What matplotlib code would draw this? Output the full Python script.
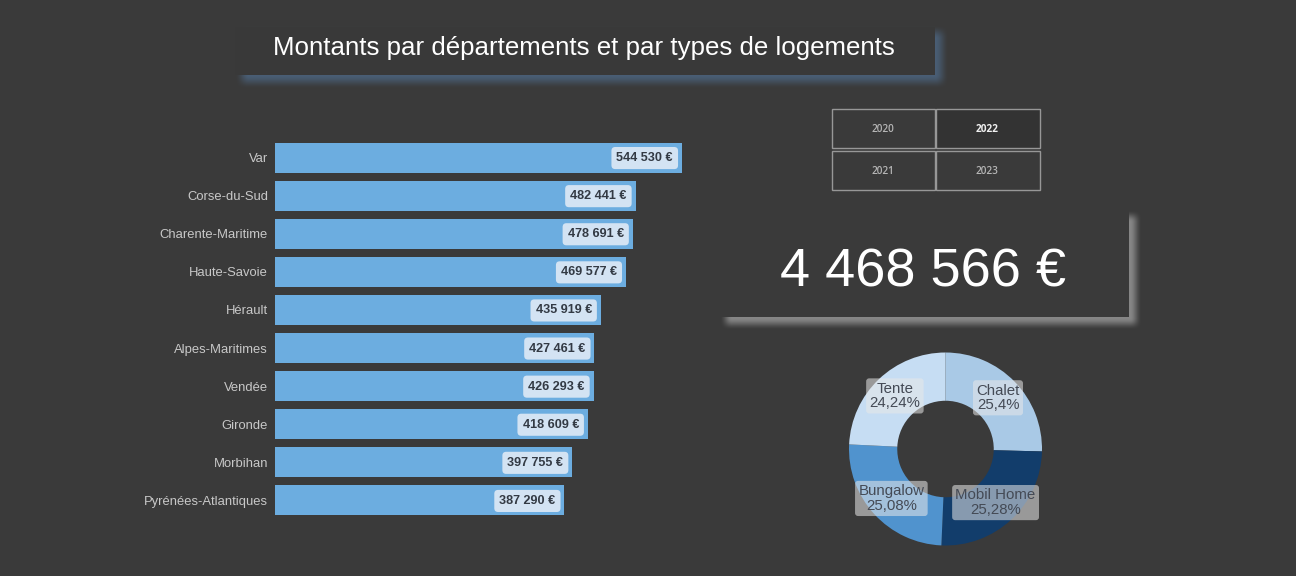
import matplotlib
matplotlib.use("Agg")
import numpy as np
import matplotlib.pyplot as plt
from matplotlib.colors import to_rgb
from matplotlib.patches import Rectangle

departements = ["Var", "Corse-du-Sud", "Charente-Maritime", "Haute-Savoie", "Hérault",
                "Alpes-Maritimes", "Vendée", "Gironde", "Morbihan", "Pyrénées-Atlantiques"]
montants = [544530, 482441, 478691, 469577, 435919, 427461, 426293, 418609, 397755, 387290]
types_logement = ["Chalet", "Mobil Home", "Bungalow", "Tente"]
parts = [25.4, 25.28, 25.08, 24.24]
parts_txt = ["25,4%", "25,28%", "25,08%", "24,24%"]
annees = [["2020", "2022"], ["2021", "2023"]]
total_txt = "4 468 566 €"
titre = "Montants par départements et par types de logements"

W, H = 1296, 576
BG = "#3a3a3a"
plt.rcParams["font.family"] = ["Liberation Sans", "DejaVu Sans"]

fig = plt.figure(figsize=(W / 100, H / 100), dpi=100, facecolor=BG)

def px_axes(l, t, r, b, **kw):
    return fig.add_axes([l / W, 1 - b / H, (r - l) / W, (b - t) / H], **kw)

bgax = px_axes(0, 0, W, H)
bgax.set_xlim(0, W); bgax.set_ylim(H, 0); bgax.axis("off")

def soft(u, a, b, blur):
    def ss(t):
        t = np.clip(t, 0, 1)
        return t * t * (3 - 2 * t)
    return ss((u - a + blur) / (2 * blur)) * ss((b + blur - u) / (2 * blur))

def shadow(l, t, r, b, color, blur, strength):
    x0, x1, y0, y1 = int(l - blur - 2), int(r + blur + 2), int(t - blur - 2), int(b + blur + 2)
    xx = soft(np.arange(x0, x1) + .5, l, r, blur)
    yy = soft(np.arange(y0, y1) + .5, t, b, blur)
    img = np.zeros((y1 - y0, x1 - x0, 4))
    img[..., :3] = to_rgb(color)
    img[..., 3] = np.outer(yy, xx) * strength
    bgax.imshow(img, extent=(x0, x1, y1, y0), zorder=1, interpolation="nearest", aspect="auto")
    bgax.set_xlim(0, W); bgax.set_ylim(H, 0)

# title panel
shadow(242, 32, 942, 82, "#4a6078", 7, 0.95)
bgax.add_patch(Rectangle((235, 27), 700, 48, fc="#393939", ec="none", zorder=2))
bgax.text(584, 47.5, titre, color="white", fontsize=18.6, ha="center", va="center", zorder=3)

# KPI panel
shadow(726, 216, 1136, 324, "#868686", 6, 1.0)
bgax.add_patch(Rectangle((719, 209), 410, 108, fc="#3a3a3a", ec="none", zorder=2))
bgax.text(923, 272.5, total_txt, color="white", fontsize=39, ha="center", va="center", zorder=3)

# year selector
xs = [(832, 935), (936, 1040)]
ys = [(109, 148), (151, 190)]
for r in range(2):
    for c in range(2):
        sel = annees[r][c] == "2022"
        (x0, x1), (y0, y1) = xs[c], ys[r]
        bgax.add_patch(Rectangle((x0 - .5, y0 - .5), x1 - x0, y1 - y0,
                                 fc="#333333" if sel else BG, ec="#979797", lw=1, zorder=2))
        bgax.text((x0 + x1) / 2 - 1, (y0 + y1) / 2 + 1, annees[r][c], family="Open Sans",
                  weight="bold" if sel else "semibold",
                  color="#f0f0f0" if sel else "#b5b5b5", fontsize=7.2, ha="center", va="center", zorder=3)

# bars
ax = px_axes(275, 138.5, 682, 519.5)
ax.patch.set_alpha(0)
y = np.arange(len(departements))
ax.barh(y, montants, height=0.787, color="#6cade0", edgecolor="none")
ax.set_xlim(0, max(montants)); ax.set_ylim(len(departements) - .5, -.5)
ax.set_yticks(y, departements)
ax.set_xticks([])
ax.tick_params(axis="y", length=0, pad=5, labelcolor="#c8c8c8", labelsize=9.4)
for s in ax.spines.values():
    s.set_visible(False)
for i, v in enumerate(montants):
    ax.annotate(f"{v:,} €".replace(",", " "), (v, i), xytext=(-9, 1), textcoords="offset pixels",
                ha="right", va="center_baseline", fontsize=9.1, weight="bold", color="#333a44",
                annotation_clip=False,
                bbox=dict(boxstyle="round,pad=0.4,rounding_size=0.3", fc="#d3e3f3", ec="none"))

# donut
pax = px_axes(945.5 - 96.5, 449 - 96.5, 945.5 + 96.5, 449 + 96.5)
pax.patch.set_alpha(0)
wedges, _ = pax.pie(parts, colors=["#a9c9e6", "#123d6b", "#5093ce", "#c6ddf3"],
                    startangle=90, counterclock=False, radius=1,
                    wedgeprops=dict(width=0.5, edgecolor="none"))
pax.set_xlim(-1, 1); pax.set_ylim(-1, 1)
for w, nom, txt in zip(wedges, types_logement, parts_txt):
    a = np.deg2rad((w.theta1 + w.theta2) / 2)
    pax.text(0.76 * np.cos(a), 0.76 * np.sin(a), f"{nom}\n{txt}", ha="center", va="center",
             fontsize=10.8, color="#444a55", linespacing=1.05,
             bbox=dict(boxstyle="round,pad=0.22,rounding_size=0.2", fc="#e8e8e8", ec="none", alpha=0.55))

fig.savefig("out.png", dpi=100, facecolor=BG)
